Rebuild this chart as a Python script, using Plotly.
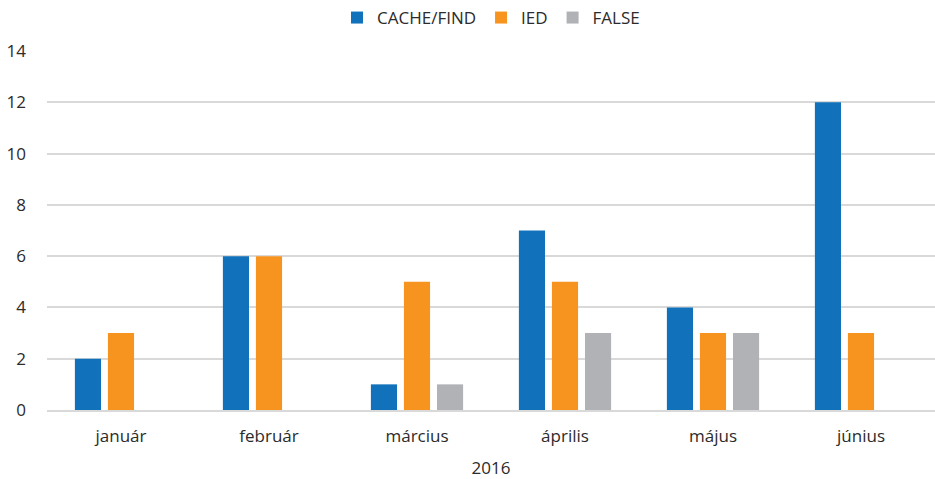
import plotly.graph_objects as go

months = ["január", "február", "március", "április", "május", "június"]
cache_find = [2, 6, 1, 7, 4, 12]
ied = [3, 6, 5, 5, 3, 3]
false_vals = [0, 0, 1, 3, 3, 0]
y_ticks = [0, 2, 4, 6, 8, 10, 12, 14]

FONT = "Open Sans"
fig = go.Figure()
fig.add_bar(name="CACHE/FIND", x=months, y=cache_find, marker_color="#1172BB", marker_line_width=0)
fig.add_bar(name="IED", x=months, y=ied, marker_color="#F7931F", marker_line_width=0)
fig.add_bar(name="FALSE", x=months, y=false_vals, marker_color="#B1B2B5", marker_line_width=0)

fig.update_layout(
    width=935, height=479,
    margin=dict(l=47, r=0, t=51, b=69, autoexpand=False),
    paper_bgcolor="white", plot_bgcolor="white",
    barmode="group", bargap=0.33, bargroupgap=0.21,
    font=dict(family=FONT, size=17, color="#2b2b2b"),
    legend=dict(orientation="h", x=0.5, xanchor="center", y=1.0, yanchor="top",
                yref="container", font=dict(size=17), traceorder="normal"),
    showlegend=True,
)
fig.update_xaxes(title=dict(text="2016", standoff=18, font=dict(size=17)),
                 showgrid=False, showline=True, linecolor="#D9D9D9", linewidth=2,
                 ticks="", ticklabelstandoff=10, automargin=False)
fig.update_yaxes(range=[0, 14], tickvals=y_ticks, showgrid=True, gridcolor="#D9D9D9",
                 gridwidth=1.5, zeroline=False, ticks="", ticklabelstandoff=20,
                 showline=False, automargin=False, tickfont=dict(size=17))
fig.write_html("out.html", config={"displayModeBar": False},
               post_script="document.body.style.margin='0';document.body.style.overflow='hidden';")
